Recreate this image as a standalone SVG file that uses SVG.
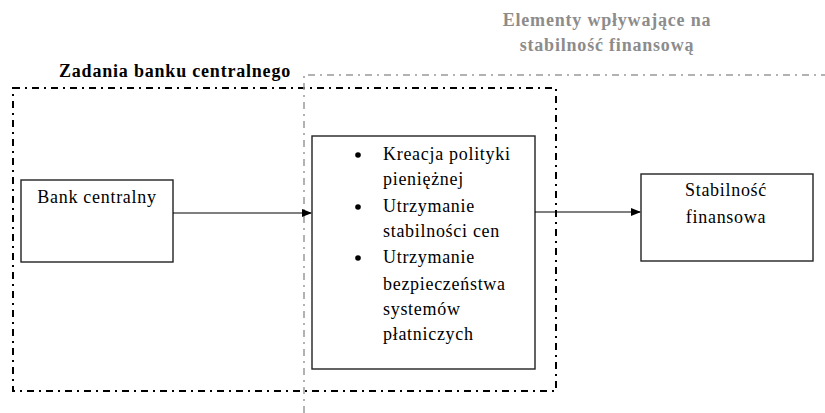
<svg xmlns="http://www.w3.org/2000/svg" width="825" height="413" viewBox="0 0 825 413" font-family="Liberation Serif">
<style>
text{font-size:18px;letter-spacing:0.7px;fill:#000}
.h{font-weight:bold;letter-spacing:0.8px}
.g{fill:#8c8c8c}
.box{fill:#fff;stroke:#222;stroke-width:1.4}
.edge{stroke:#000;stroke-width:1.2;fill:none}
</style>
<defs>
<marker id="ah" markerWidth="10" markerHeight="8" refX="9" refY="4" orient="auto" markerUnits="userSpaceOnUse">
<path d="M0,0 L10,4 L0,8 Z" fill="#000"/>
</marker>
</defs>
<rect width="825" height="413" fill="#fff"/>
<g id="group-bank" font-family="Liberation Serif">
<rect x="13" y="88" width="543" height="303" fill="none" stroke="#000" stroke-width="2" stroke-dasharray="7,5,2,5"/>
<text class="h" x="175" y="77" text-anchor="middle">Zadania banku centralnego</text>
</g>
<g id="group-elements" font-family="Liberation Serif">
<path d="M304,413 L304,75 L825,75" fill="none" stroke="#999" stroke-width="1.5" stroke-dasharray="7,5,2,5"/>
<text class="h g" x="607" y="26" text-anchor="middle">Elementy wpływające na</text>
<text class="h g" x="607" y="51" text-anchor="middle">stabilność finansową</text>
</g>
<g id="node-bank" font-family="Liberation Serif">
<rect class="box" x="21" y="180" width="152" height="82"/>
<text x="97" y="203" text-anchor="middle">Bank centralny</text>
</g>
<g id="node-tasks" font-family="Liberation Serif">
<rect class="box" x="312" y="136" width="223" height="233"/>
<circle cx="358" cy="155" r="2.8"/>
<circle cx="358" cy="207" r="2.8"/>
<circle cx="358" cy="258" r="2.8"/>
<text x="383" y="160">Kreacja polityki</text>
<text x="383" y="185">pieniężnej</text>
<text x="383" y="212">Utrzymanie</text>
<text x="383" y="237">stabilności cen</text>
<text x="383" y="263">Utrzymanie</text>
<text x="383" y="290">bezpieczeństwa</text>
<text x="383" y="315">systemów</text>
<text x="383" y="340">płatniczych</text>
</g>
<g id="node-stab" font-family="Liberation Serif">
<rect class="box" x="641" y="174" width="172" height="87"/>
<text x="726" y="196" text-anchor="middle">Stabilność</text>
<text x="726" y="223" text-anchor="middle">finansowa</text>
</g>
<g id="connectors">
<line class="edge" x1="173" y1="213" x2="311" y2="213" marker-end="url(#ah)"/>
<line class="edge" x1="535" y1="212" x2="640" y2="212" marker-end="url(#ah)"/>
</g>
</svg>
